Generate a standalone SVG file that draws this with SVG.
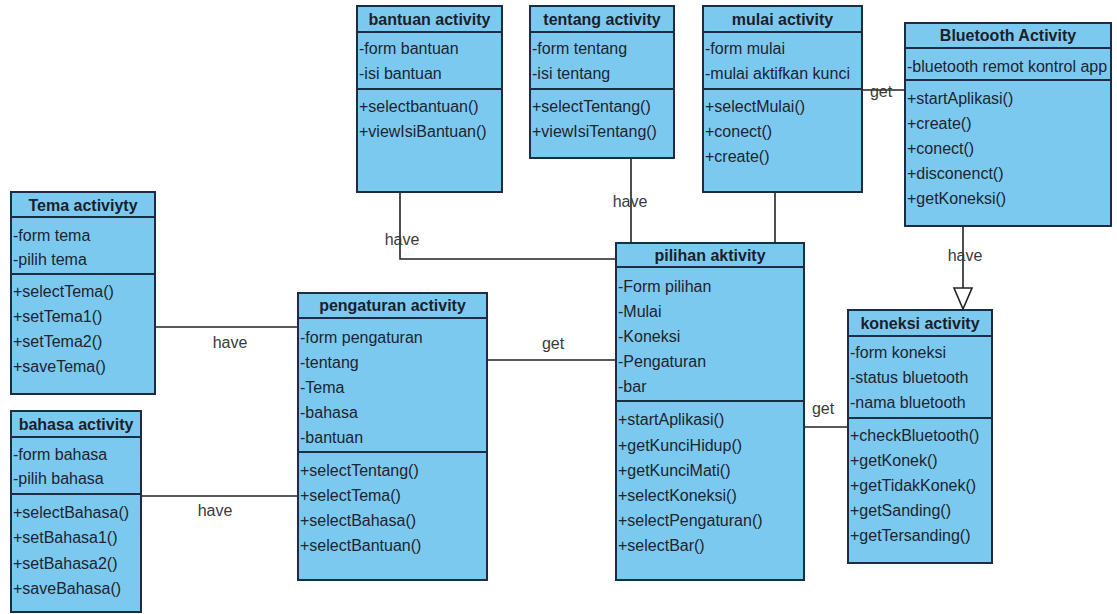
<svg xmlns="http://www.w3.org/2000/svg" width="1117" height="614" viewBox="0 0 1117 614">
  <style>
    .box { fill: #7cc9ef; stroke: #1d2b45; stroke-width: 2; }
    .sep { stroke: #1d2b45; stroke-width: 2; }
    .title { font-family: "Liberation Sans", Arial, sans-serif; font-size: 16px; font-weight: bold; fill: #1a1f2b; text-anchor: middle; }
    .item { font-family: "Liberation Sans", Arial, sans-serif; font-size: 16px; fill: #1e2430; }
    .link { fill: none; stroke: #222; stroke-width: 1.6; }
    .lbl { font-family: "Liberation Sans", Arial, sans-serif; font-size: 16px; fill: #3a3a3a; text-anchor: middle; }
    .head { fill: #fff; stroke: #222; stroke-width: 1.6; }
  </style>
  <rect width="1117" height="614" fill="#ffffff"/>

  <!-- associations -->
  <g id="connectors">
    <polyline class="link" points="400,192 400,259 616,259"/>
    <text class="lbl" x="402" y="245">have</text>
    <line class="link" x1="631" y1="158" x2="631" y2="243"/>
    <text class="lbl" x="630" y="207">have</text>
    <line class="link" x1="775" y1="192" x2="775" y2="243"/>
    <line class="link" x1="862" y1="90" x2="905" y2="90"/>
    <text class="lbl" x="881" y="97">get</text>
    <line class="link" x1="963" y1="226" x2="963" y2="288"/>
    <polygon class="head" points="954,288 972,288 963,309"/>
    <text class="lbl" x="965" y="261">have</text>
    <line class="link" x1="155" y1="327" x2="298" y2="327"/>
    <text class="lbl" x="230" y="348">have</text>
    <line class="link" x1="141" y1="496" x2="298" y2="496"/>
    <text class="lbl" x="215" y="516">have</text>
    <line class="link" x1="487" y1="360" x2="616" y2="360"/>
    <text class="lbl" x="553" y="349">get</text>
    <line class="link" x1="804" y1="427" x2="848" y2="427"/>
    <text class="lbl" x="823" y="414">get</text>
  </g>

  <g id="bantuan">
    <rect class="box" x="357" y="6" width="145" height="186"/>
    <line class="sep" x1="357" y1="32" x2="502" y2="32"/>
    <line class="sep" x1="357" y1="89" x2="502" y2="89"/>
    <text class="title" x="429.5" y="25">bantuan activity</text>
    <text class="item" x="359" y="54">-form bantuan</text>
    <text class="item" x="359" y="79">-isi bantuan</text>
    <text class="item" x="359" y="112">+selectbantuan()</text>
    <text class="item" x="359" y="137">+viewIsiBantuan()</text>
  </g>

  <g id="tentang">
    <rect class="box" x="530" y="6" width="144" height="152"/>
    <line class="sep" x1="530" y1="32" x2="674" y2="32"/>
    <line class="sep" x1="530" y1="89" x2="674" y2="89"/>
    <text class="title" x="602" y="25">tentang activity</text>
    <text class="item" x="532" y="54">-form tentang</text>
    <text class="item" x="532" y="79">-isi tentang</text>
    <text class="item" x="532" y="112">+selectTentang()</text>
    <text class="item" x="532" y="137">+viewIsiTentang()</text>
  </g>

  <g id="mulai">
    <rect class="box" x="703" y="6" width="159" height="186"/>
    <line class="sep" x1="703" y1="32" x2="862" y2="32"/>
    <line class="sep" x1="703" y1="89" x2="862" y2="89"/>
    <text class="title" x="782.5" y="25">mulai activity</text>
    <text class="item" x="705" y="54">-form mulai</text>
    <text class="item" x="705" y="79">-mulai aktifkan kunci</text>
    <text class="item" x="705" y="112">+selectMulai()</text>
    <text class="item" x="705" y="137">+conect()</text>
    <text class="item" x="705" y="162">+create()</text>
  </g>

  <g id="bluetooth">
    <rect class="box" x="905" y="23" width="206" height="203"/>
    <line class="sep" x1="905" y1="48" x2="1111" y2="48"/>
    <line class="sep" x1="905" y1="80" x2="1111" y2="80"/>
    <text class="title" x="1008" y="41">Bluetooth Activity</text>
    <text class="item" x="907" y="72">-bluetooth remot kontrol app</text>
    <text class="item" x="907" y="104">+startAplikasi()</text>
    <text class="item" x="907" y="129">+create()</text>
    <text class="item" x="907" y="154">+conect()</text>
    <text class="item" x="907" y="179">+disconenct()</text>
    <text class="item" x="907" y="204">+getKoneksi()</text>
  </g>

  <g id="tema">
    <rect class="box" x="11" y="192" width="144" height="202"/>
    <line class="sep" x1="11" y1="217" x2="155" y2="217"/>
    <line class="sep" x1="11" y1="274" x2="155" y2="274"/>
    <text class="title" x="83" y="211">Tema activiyty</text>
    <text class="item" x="13" y="241">-form tema</text>
    <text class="item" x="13" y="265">-pilih tema</text>
    <text class="item" x="13" y="297">+selectTema()</text>
    <text class="item" x="13" y="322">+setTema1()</text>
    <text class="item" x="13" y="347">+setTema2()</text>
    <text class="item" x="13" y="372">+saveTema()</text>
  </g>

  <g id="bahasa">
    <rect class="box" x="11" y="411" width="130" height="201"/>
    <line class="sep" x1="11" y1="437" x2="141" y2="437"/>
    <line class="sep" x1="11" y1="494" x2="141" y2="494"/>
    <text class="title" x="76" y="430">bahasa activity</text>
    <text class="item" x="13" y="460">-form bahasa</text>
    <text class="item" x="13" y="484">-pilih bahasa</text>
    <text class="item" x="13" y="518">+selectBahasa()</text>
    <text class="item" x="13" y="543">+setBahasa1()</text>
    <text class="item" x="13" y="569">+setBahasa2()</text>
    <text class="item" x="13" y="594">+saveBahasa()</text>
  </g>

  <g id="pengaturan">
    <rect class="box" x="298" y="293" width="189" height="287"/>
    <line class="sep" x1="298" y1="318" x2="487" y2="318"/>
    <line class="sep" x1="298" y1="452" x2="487" y2="452"/>
    <text class="title" x="392.5" y="311">pengaturan activity</text>
    <text class="item" x="300" y="343">-form pengaturan</text>
    <text class="item" x="300" y="368">-tentang</text>
    <text class="item" x="300" y="393">-Tema</text>
    <text class="item" x="300" y="418">-bahasa</text>
    <text class="item" x="300" y="443">-bantuan</text>
    <text class="item" x="300" y="476">+selectTentang()</text>
    <text class="item" x="300" y="501">+selectTema()</text>
    <text class="item" x="300" y="526">+selectBahasa()</text>
    <text class="item" x="300" y="551">+selectBantuan()</text>
  </g>

  <g id="pilihan">
    <rect class="box" x="616" y="243" width="188" height="337"/>
    <line class="sep" x1="616" y1="267" x2="804" y2="267"/>
    <line class="sep" x1="616" y1="401" x2="804" y2="401"/>
    <text class="title" x="710" y="261">pilihan aktivity</text>
    <text class="item" x="618" y="292">-Form pilihan</text>
    <text class="item" x="618" y="317">-Mulai</text>
    <text class="item" x="618" y="342">-Koneksi</text>
    <text class="item" x="618" y="367">-Pengaturan</text>
    <text class="item" x="618" y="392">-bar</text>
    <text class="item" x="618" y="425">+startAplikasi()</text>
    <text class="item" x="618" y="451">+getKunciHidup()</text>
    <text class="item" x="618" y="476">+getKunciMati()</text>
    <text class="item" x="618" y="501">+selectKoneksi()</text>
    <text class="item" x="618" y="526">+selectPengaturan()</text>
    <text class="item" x="618" y="551">+selectBar()</text>
  </g>

  <g id="koneksi">
    <rect class="box" x="848" y="310" width="144" height="253"/>
    <line class="sep" x1="848" y1="336" x2="992" y2="336"/>
    <line class="sep" x1="848" y1="418" x2="992" y2="418"/>
    <text class="title" x="920" y="329">koneksi activity</text>
    <text class="item" x="850" y="358">-form koneksi</text>
    <text class="item" x="850" y="383">-status bluetooth</text>
    <text class="item" x="850" y="408">-nama bluetooth</text>
    <text class="item" x="850" y="441">+checkBluetooth()</text>
    <text class="item" x="850" y="466">+getKonek()</text>
    <text class="item" x="850" y="491">+getTidakKonek()</text>
    <text class="item" x="850" y="516">+getSanding()</text>
    <text class="item" x="850" y="541">+getTersanding()</text>
  </g>
</svg>
